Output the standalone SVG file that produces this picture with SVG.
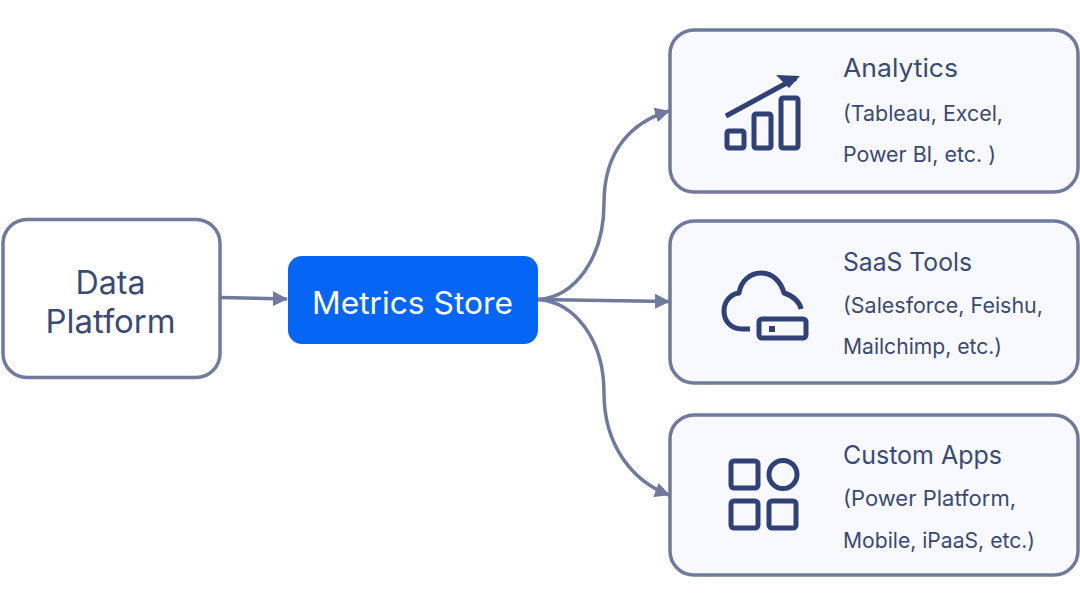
<svg xmlns="http://www.w3.org/2000/svg" width="1080" height="607" viewBox="0 0 1080 607">
<style>
.box{fill:#f8f9fe;stroke:#6f7a9c;stroke-width:3.5}
.t{font-family:"Inter","Liberation Sans",sans-serif;fill:#3b4a73}
.h{font-size:25.500px;font-weight:400}
.s{font-size:21.5px}
.c{fill:none;stroke:#6f7a9c;stroke-width:3.5}
.i{fill:none;stroke:#2f4175;stroke-width:5;stroke-linejoin:round}
</style>
<defs><marker id="a" markerUnits="userSpaceOnUse" markerWidth="16" markerHeight="17" refX="14" refY="8.500" orient="auto"><path d="M0,1L15,8.500L0,16z" fill="#6f7a9c"/></marker></defs>
<rect width="1080" height="607" fill="#fff"/>
<g id="connectors">
<path class="c" marker-end="url(#a)" d="M220,297.500L287,299"/>
<path class="c" marker-end="url(#a)" d="M538,299.500C575,297 604,258 604,203C604,150 632,122 669,111"/>
<path class="c" marker-end="url(#a)" d="M538,299.500L669,301.500"/>
<path class="c" marker-end="url(#a)" d="M538,299.500C575,302 604,340 604,393C604,445 632,481 669,495"/>
</g>
<g id="data-platform">
<rect x="3" y="219.500" width="217" height="158" rx="24" fill="#fff" stroke="#6f7a9c" stroke-width="3.500"/>
<text class="t" x="110.500" y="294" text-anchor="middle" font-size="32" textLength="70" lengthAdjust="spacingAndGlyphs">Data</text>
<text class="t" x="110.500" y="333" text-anchor="middle" font-size="32" textLength="130" lengthAdjust="spacingAndGlyphs">Platform</text>
</g>
<g id="metrics-store">
<rect x="288" y="256" width="250" height="88" rx="14" fill="#0566f5"/>
<text x="412.500" y="314" text-anchor="middle" font-size="31" font-family="Inter,'Liberation Sans',sans-serif" fill="#fff" textLength="201" lengthAdjust="spacingAndGlyphs">Metrics Store</text>
</g>
<g id="analytics">
<rect class="box" x="670" y="30" width="408" height="162" rx="24"/>
<path class="i" d="M726,116L796,78"/>
<path d="M776,75L800,76L789,88z" fill="#2f4175"/>
<rect class="i" x="727" y="131" width="17" height="17" rx="2"/>
<rect class="i" x="754" y="114" width="17" height="34" rx="2"/>
<rect class="i" x="781" y="98" width="17" height="50" rx="2"/>
<text class="t h" x="843" y="77" textLength="115" lengthAdjust="spacingAndGlyphs">Analytics</text>
<text class="t s" x="843" y="121" textLength="160" lengthAdjust="spacingAndGlyphs">(Tableau, Excel,</text>
<text class="t s" x="843" y="162" textLength="153" lengthAdjust="spacingAndGlyphs">Power BI, etc. )</text>
</g>
<g id="saas-tools">
<rect class="box" x="670" y="221" width="408" height="162" rx="24"/>
<path class="i" d="M750,329H742C730,329 724,320 724,311C724,301 731,294 739,293C741,281 750,273 761,273C773,273 781,282 784,293C794,296 800,303 801,309"/>
<rect class="i" x="759" y="319" width="47" height="19" rx="3"/>
<rect x="769" y="326" width="6" height="6" fill="#2f4175"/>
<text class="t h" x="843" y="271" textLength="129" lengthAdjust="spacingAndGlyphs">SaaS Tools</text>
<text class="t s" x="843" y="313" textLength="200" lengthAdjust="spacingAndGlyphs">(Salesforce, Feishu,</text>
<text class="t s" x="843" y="354" textLength="159" lengthAdjust="spacingAndGlyphs">Mailchimp, etc.)</text>
</g>
<g id="custom-apps">
<rect class="box" x="670" y="415" width="408" height="160" rx="24"/>
<rect class="i" x="731" y="461" width="27" height="27" rx="3"/>
<circle class="i" cx="783" cy="474.500" r="14"/>
<rect class="i" x="731" y="501" width="27" height="27" rx="3"/>
<rect class="i" x="769" y="501" width="27" height="27" rx="3"/>
<text class="t h" x="843" y="464" textLength="159" lengthAdjust="spacingAndGlyphs">Custom Apps</text>
<text class="t s" x="843" y="506" textLength="173" lengthAdjust="spacingAndGlyphs">(Power Platform,</text>
<text class="t s" x="843" y="548" textLength="192" lengthAdjust="spacingAndGlyphs">Mobile, iPaaS, etc.)</text>
</g>
</svg>
